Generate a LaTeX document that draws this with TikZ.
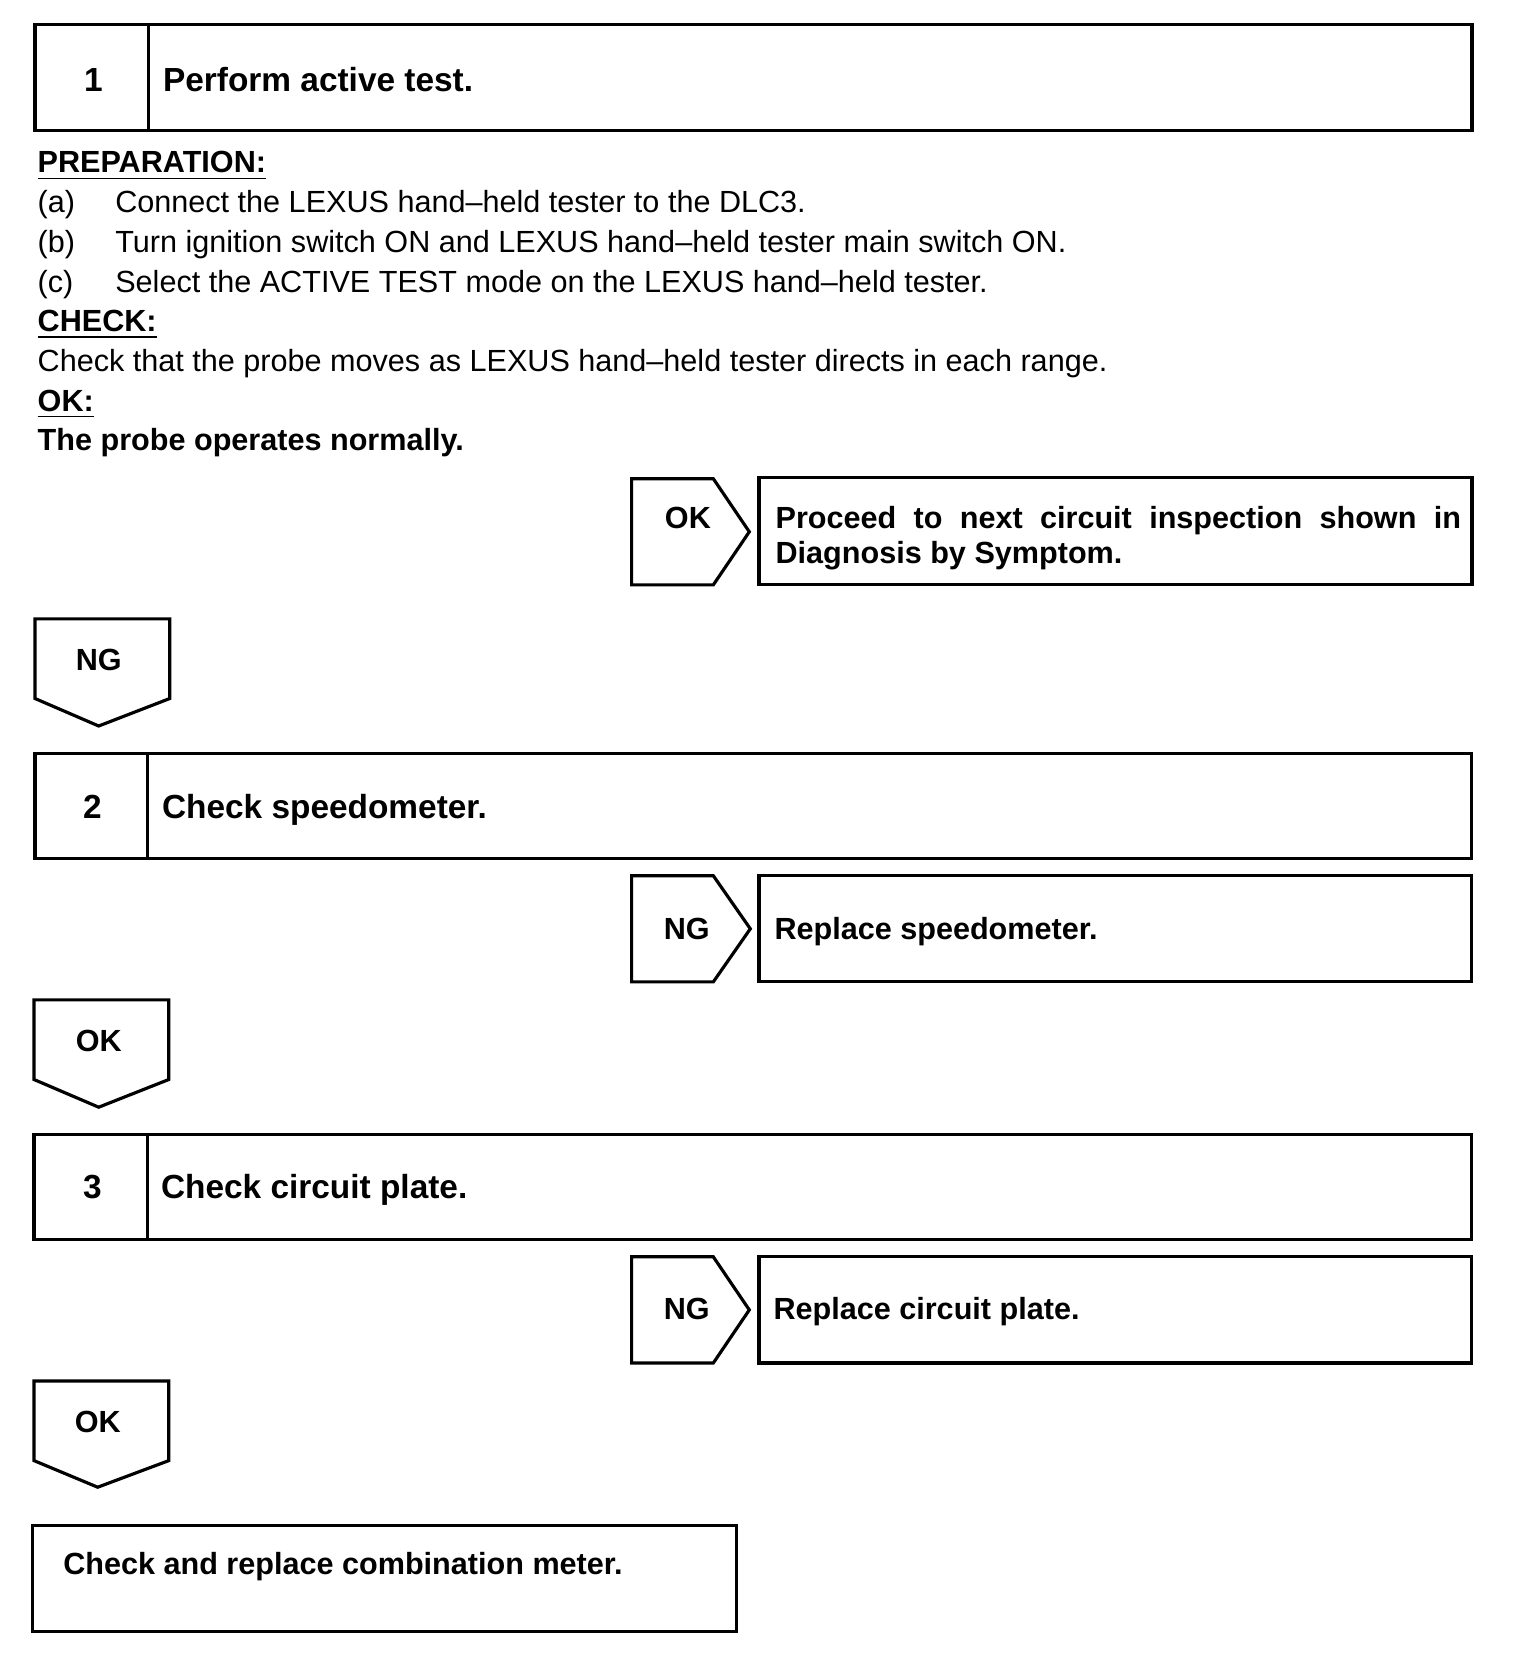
\documentclass[tikz,border=0pt]{standalone}
\usepackage{fontspec}
\setmainfont{Liberation Sans}
\usepackage{tikz}

\begin{document}
\begin{tikzpicture}[
  x=0.01cm, y=-0.01cm,
  box/.style={draw, line width=0.9pt, line join=miter},
  num/.style={anchor=base, inner sep=0pt, font=\fontsize{9.5}{11}\selectfont\bfseries},
  ttl/.style={anchor=base west, inner sep=0pt, font=\fontsize{9.5}{11}\selectfont\bfseries},
  txt/.style={anchor=base west, inner sep=0pt, font=\fontsize{8.7}{11.2}\selectfont},
  hdr/.style={anchor=base west, inner sep=0pt, font=\fontsize{8.7}{11.2}\selectfont\bfseries},
  tag/.style={anchor=base, inner sep=0pt, font=\fontsize{8.7}{10.2}\selectfont\bfseries},
  res/.style={anchor=base west, inner sep=0pt, font=\fontsize{8.7}{10.2}\selectfont\bfseries}
]
  \useasboundingbox[fill=white] (0,0) rectangle (1520,1664);

  % step 1
  \draw[box] (35,24.4) rectangle (1472,130.6);
  \draw[box] (148.6,24.4) -- (148.6,130.6);
  \node[num] (n1) at (93.4,91.6) {1};
  \node[ttl] (t1) at (162.4,91.6) {Perform active test.};

  % procedure text
  \node[hdr] (prep) at (37,173) {\underline{PREPARATION:}};
  \node[txt] (pa) at (37,212.7) {(a)};
  \node[txt] (pat) at (114.6,212.7) {Connect the LEXUS hand--held tester to the DLC3.};
  \node[txt] (pb) at (37,253) {(b)};
  \node[txt] (pbt) at (114.6,253) {Turn ignition switch ON and LEXUS hand--held tester main switch ON.};
  \node[txt] (pc) at (37,292.3) {(c)};
  \node[txt] (pct) at (114.6,292.3) {Select the ACTIVE TEST mode on the LEXUS hand--held tester.};
  \node[hdr] (chk) at (37,331.6) {\underline{CHECK:}};
  \node[txt] (chkt) at (37,372) {Check that the probe moves as LEXUS hand--held tester directs in each range.};
  \node[hdr] (ok) at (37,411.2) {\underline{OK:}};
  \node[hdr] (okt) at (37,450.5) {The probe operates normally.};

  % OK branch of step 1
  \draw[box] (631.6,478.7) -- ++(81.7,0) -- ++(36,53.1) -- ++(-36,53.1) -- ++(-81.7,0) -- cycle;
  \node[tag] (g1) at (687.9,528) {OK};
  \draw[box] (759,477.7) rectangle (1472,584.9);
  \node[res, text width=6.85cm, align=justify] (r1) at (774.9,528)
    {Proceed to next circuit inspection shown in \mbox{Diagnosis} by Symptom.};

  % NG down
  \draw[box] (35,618.9) -- (169.8,618.9) -- (169.8,698.5) -- (98.7,726) -- (35,698.5) -- cycle;
  \node[tag] (d1) at (98.7,670.2) {NG};

  % step 2
  \draw[box] (35,753.7) rectangle (1471.2,858.8);
  \draw[box] (147.5,753.7) -- (147.5,858.8);
  \node[num] (n2) at (92.4,818.7) {2};
  \node[ttl] (t2) at (161.3,818.7) {Check speedometer.};

  \draw[box] (631.6,875.7) -- ++(81.7,0) -- ++(37,53.1) -- ++(-37,53.1) -- ++(-81.7,0) -- cycle;
  \node[tag] (g2) at (686.8,939.8) {NG};
  \draw[box] (759,875.7) rectangle (1471.2,981.9);
  \node[res] (r2) at (773.8,939.8) {Replace speedometer.};

  \draw[box] (34,999.9) -- (168.8,999.9) -- (168.8,1079.5) -- (98.7,1107.2) -- (34,1079.5) -- cycle;
  \node[tag] (d2) at (98.7,1051.3) {OK};

  % step 3
  \draw[box] (34,1134.7) rectangle (1471.2,1239.8);
  \draw[box] (147.5,1134.7) -- (147.5,1239.8);
  \node[num] (n3) at (92.4,1198.8) {3};
  \node[ttl] (t3) at (160.3,1198.8) {Check circuit plate.};

  \draw[box] (631.6,1256.8) -- ++(81.7,0) -- ++(36,53.1) -- ++(-36,53.1) -- ++(-81.7,0) -- cycle;
  \node[tag] (g3) at (686.8,1319.8) {NG};
  \draw[box] (759,1256.8) rectangle (1471.2,1363);
  \node[res] (r3) at (772.8,1319.8) {Replace circuit plate.};

  \draw[box] (34,1381) -- (168.8,1381) -- (168.8,1460.6) -- (97.7,1487.2) -- (34,1460.6) -- cycle;
  \node[tag] (d3) at (97.7,1432.3) {OK};

  % last step
  \draw[box] (32.9,1525.4) rectangle (736.7,1631.5);
  \node[res] (r4) at (62.6,1574.6) {Check and replace combination meter.};
\end{tikzpicture}
\end{document}
